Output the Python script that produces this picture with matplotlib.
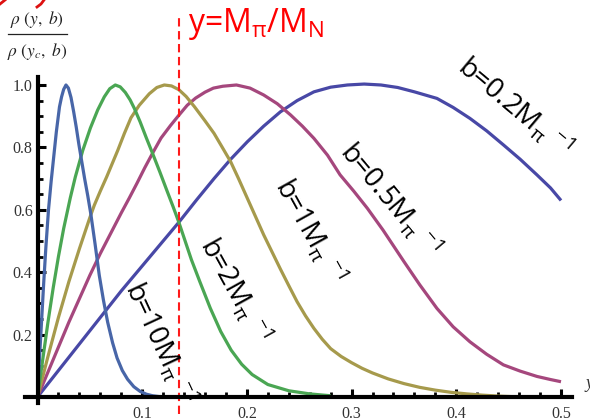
import matplotlib
matplotlib.use('Agg')
import matplotlib.pyplot as plt
from matplotlib.lines import Line2D

# ---------------- data ----------------
x_b10 = [0, 0.002, 0.004, 0.006, 0.008, 0.0105, 0.013, 0.0155, 0.018, 0.021, 0.023, 0.025,
         0.0272, 0.0295, 0.032, 0.0345, 0.037, 0.0395, 0.042, 0.045, 0.048, 0.051, 0.055,
         0.059, 0.063, 0.067, 0.0717, 0.076, 0.081, 0.086, 0.092, 0.098, 0.104, 0.11,
         0.117, 0.125]
y_b10 = [0, 0.13, 0.25, 0.37, 0.48, 0.60, 0.69, 0.77, 0.85, 0.93, 0.962, 0.986,
         1.0, 0.99, 0.96, 0.915, 0.865, 0.81, 0.76, 0.70, 0.645, 0.585, 0.49,
         0.39, 0.31, 0.24, 0.174, 0.125, 0.085, 0.057, 0.033, 0.018, 0.009, 0.004,
         0.001, 0.0]

x_b2 = [0, 0.005, 0.01, 0.015, 0.02, 0.025, 0.0313, 0.0361, 0.0432, 0.0505, 0.0575, 0.0638,
        0.069, 0.0743, 0.079, 0.0839, 0.0885, 0.0925, 0.098, 0.104, 0.110, 0.117, 0.124,
        0.1295, 0.135, 0.141, 0.147, 0.155, 0.165, 0.175, 0.185, 0.195, 0.205, 0.22, 0.24,
        0.26, 0.28]
y_b2 = [0, 0.12, 0.24, 0.35, 0.45, 0.54, 0.638, 0.705, 0.79, 0.862, 0.92, 0.962,
        0.988, 1.0, 0.994, 0.976, 0.952, 0.925, 0.882, 0.83, 0.78, 0.72, 0.658,
        0.61, 0.56, 0.50, 0.44, 0.37, 0.285, 0.21, 0.15, 0.105, 0.072, 0.04, 0.02,
        0.01, 0.004]

x_b1 = [0, 0.01, 0.02, 0.03, 0.04, 0.05, 0.0543, 0.06, 0.066, 0.0766, 0.083, 0.0893, 0.0972,
        0.1068, 0.114, 0.1211, 0.128, 0.135, 0.142, 0.15, 0.16, 0.1686, 0.1765, 0.1845,
        0.192, 0.20, 0.208, 0.216, 0.224, 0.232, 0.24, 0.248, 0.256, 0.264, 0.272, 0.28,
        0.29, 0.30, 0.31, 0.32, 0.335, 0.35, 0.365, 0.38, 0.395, 0.41, 0.425, 0.44, 0.455]
y_b1 = [0, 0.13, 0.255, 0.37, 0.475, 0.575, 0.615, 0.66, 0.705, 0.79, 0.845, 0.895, 0.935,
        0.972, 0.992, 1.0, 0.997, 0.985, 0.963, 0.93, 0.885, 0.845, 0.80, 0.754,
        0.70, 0.64, 0.58, 0.52, 0.465, 0.41, 0.357, 0.305, 0.26, 0.22, 0.185, 0.155,
        0.13, 0.11, 0.092, 0.077, 0.058, 0.043, 0.031, 0.022, 0.015, 0.01, 0.006, 0.003, 0.001]

x_b05 = [0, 0.01, 0.02, 0.03, 0.04, 0.05, 0.06, 0.07, 0.08, 0.0877, 0.095, 0.1025, 0.110,
         0.118, 0.127, 0.1355, 0.143, 0.151, 0.16, 0.168, 0.177, 0.19, 0.203, 0.216, 0.229,
         0.2417, 0.253, 0.264, 0.277, 0.289, 0.302, 0.315, 0.33, 0.35, 0.365, 0.3815, 0.397,
         0.413, 0.429, 0.445, 0.461, 0.477, 0.49, 0.5]
y_b05 = [0, 0.08, 0.16, 0.24, 0.315, 0.39, 0.46, 0.525, 0.59, 0.638, 0.685, 0.735, 0.782,
         0.83, 0.87, 0.905, 0.935, 0.958, 0.977, 0.99, 0.996, 1.0, 0.99, 0.968, 0.94,
         0.904, 0.868, 0.829, 0.775, 0.712, 0.66, 0.605, 0.535, 0.434, 0.36, 0.284, 0.225,
         0.177, 0.137, 0.103, 0.083, 0.066, 0.056, 0.049]

x_b02 = [0, 0.02, 0.04, 0.06, 0.08, 0.10, 0.12, 0.135, 0.152, 0.1686, 0.1845, 0.2004, 0.216,
         0.232, 0.248, 0.264, 0.28, 0.296, 0.312, 0.328, 0.344, 0.36, 0.3815, 0.397, 0.413,
         0.429, 0.445, 0.461, 0.477, 0.49, 0.5]
y_b02 = [0, 0.085, 0.17, 0.255, 0.34, 0.42, 0.50, 0.56, 0.632, 0.70, 0.762, 0.818, 0.868,
         0.914, 0.95, 0.978, 0.993, 1.0, 1.003, 1.0, 0.992, 0.978, 0.957, 0.928, 0.893,
         0.853, 0.808, 0.762, 0.712, 0.67, 0.63]

y_ratio = 0.135          # M_pi / M_N marker position

x_ticks = [0.1, 0.2, 0.3, 0.4, 0.5]
x_tick_labels = ['0.1', '0.2', '0.3', '0.4', '0.5']
y_ticks = [0.2, 0.4, 0.6, 0.8, 1.0]
y_tick_labels = ['0.2', '0.4', '0.6', '0.8', '1.0']

labels = ['b=10M$_{\\pi}$ $^{-1}$', 'b=2M$_{\\pi}$ $^{-1}$', 'b=1M$_{\\pi}$ $^{-1}$',
          'b=0.5M$_{\\pi}$ $^{-1}$', 'b=0.2M$_{\\pi}$ $^{-1}$']
colors = ['#4866a8', '#4aa653', '#a69a4c', '#a5477d', '#4848a6']

# ---------------- figure ----------------
plt.rcParams['mathtext.fontset'] = 'custom'
plt.rcParams['mathtext.rm'] = 'Open Sans'
plt.rcParams['mathtext.it'] = 'Open Sans'
plt.rcParams['mathtext.bf'] = 'Open Sans:bold'
plt.rcParams['font.family'] = ['Open Sans', 'DejaVu Sans']

W, H = 590, 419
fig = plt.figure(figsize=(W / 100, H / 100), dpi=100)
ax = fig.add_axes([25 / W, 16 / H, 547 / W, 326 / H])
ax.set_xlim(-0.01194, 0.5105)
ax.set_ylim(-0.0192, 1.0256)

series = [(x_b02, y_b02), (x_b05, y_b05), (x_b1, y_b1), (x_b2, y_b2), (x_b10, y_b10)]
cols = [colors[4], colors[3], colors[2], colors[1], colors[0]]
for (xs, ys), c in zip(series, cols):
    ax.plot(xs, ys, color=c, lw=2.3, solid_capstyle='butt', solid_joinstyle='round', zorder=3)

ax.plot([y_ratio, y_ratio], [-0.055, 1.224], color='#ff1a1a', lw=1.5,
        linestyle=(0, (4, 2.2)), clip_on=False, zorder=4)

for s in ['top', 'right']:
    ax.spines[s].set_visible(False)
ax.spines['bottom'].set_position(('data', 0))
ax.spines['left'].set_position(('data', 0))
for s in ['bottom', 'left']:
    ax.spines[s].set_linewidth(3.0)
    ax.spines[s].set_zorder(5)

ax.set_xticks(x_ticks)
ax.set_xticklabels(x_tick_labels)
ax.set_yticks(y_ticks)
ax.set_yticklabels(y_tick_labels)
ax.set_xticks([i * 0.02 for i in range(1, 26)], minor=True)
ax.set_yticks([i * 0.05 for i in range(1, 21)], minor=True)
ax.tick_params(which='major', direction='in', length=5.8, width=2.2, color='black',
               labelsize=11.5, labelcolor='#333333')
ax.tick_params(which='minor', direction='in', length=3.4, width=2.0, color='black')
ax.tick_params(axis='x', which='major', pad=6.3)
ax.tick_params(axis='y', which='major', pad=3.5)
for lab in ax.get_xticklabels() + ax.get_yticklabels():
    lab.set_family('Liberation Serif')

# ---------------- texts ----------------
def fx(px):
    return px / W

def fy(py):
    return 1 - py / H

fig.text(fx(188), fy(32), 'y=M$_{\\pi}$/M$_{\\mathrm{N}}$', color='#ff0000', fontsize=23,
         ha='left', va='baseline')

label_pos = [(161, 342, -65), (236, 289, -61), (311, 230, -61), (391, 199, -50), (515, 106, -40)]
for text, (px, py, rot) in zip(labels, label_pos):
    fig.text(fx(px), fy(py), text, fontsize=20, color='black', rotation=rot,
             rotation_mode='anchor', ha='center', va='center', zorder=6)

# y-axis quantity label (fraction)
fig.text(fx(37), fy(20), r'$\rho\ (y,\ b)$', math_fontfamily='stix', fontsize=12.5,
         ha='center', va='center', color='#222222')
fig.text(fx(37), fy(52), r'$\rho\ (y_c,\ b)$', math_fontfamily='stix', fontsize=12.5,
         ha='center', va='center', color='#222222')
fig.add_artist(Line2D([fx(8), fx(67)], [fy(34), fy(34)], transform=fig.transFigure,
                      lw=0.9, color='#222222'))

# x-axis quantity label, mostly beyond the figure edge as in the reference
fig.text(fx(585), fy(383), 'y', family='Liberation Serif', style='italic', fontsize=13,
         ha='left', va='center', color='#333333')

# red strokes at the top-left corner
fig.add_artist(Line2D([fx(0), fx(5)], [fy(4), fy(0)], transform=fig.transFigure,
                      lw=2.0, color='#dd1111'))
fig.add_artist(Line2D([fx(37), fx(41), fx(44)], [fy(7), fy(4), fy(0)],
                      transform=fig.transFigure, lw=2.0, color='#dd1111'))

fig.savefig('out.png', dpi=100)
